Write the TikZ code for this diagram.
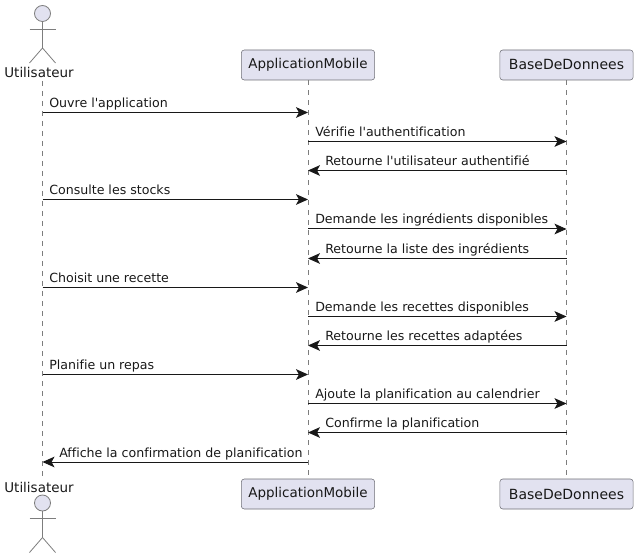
\documentclass[tikz,border=0pt]{standalone}
\usepackage{fontspec}
\newfontfamily\umlfont[Ligatures=NoCommon]{DejaVu Sans}
\usepackage{xcolor}
\definecolor{partfill}{RGB}{226,226,240}
\definecolor{partdraw}{RGB}{110,110,118}
\definecolor{linecol}{RGB}{125,125,125}
\definecolor{msgcol}{RGB}{24,24,24}
\usetikzlibrary{arrows.meta}
\tikzstyle{participant} = [
    rectangle, rounded corners=2.2pt, text centered,
    minimum width=100pt,
    minimum height=22.5pt,
    inner sep=0pt,
    fill=partfill,
    draw=partdraw,
    font=\umlfont\fontsize{10.1}{12}\selectfont,
    text=msgcol,
]
\tikzstyle{database} = [
    participant,
    font=\umlfont\fontsize{10.5}{12}\selectfont,
]
\tikzstyle{actorname} = [inner sep=0pt, text=msgcol, font=\umlfont\fontsize{10.1}{12}\selectfont]
\tikzstyle{msg} = [inner sep=0pt, anchor=base west, text=msgcol, font=\umlfont\fontsize{9.45}{12}\selectfont]
\tikzstyle{lifeline} = [linecol, dash pattern=on 3.75pt off 3.75pt, line width=0.6pt]
\tikzstyle{actorline} = [linecol, line width=0.6pt]
\tikzstyle{arrow} = [-{Stealth[length=9pt,width=8pt,inset=2.2pt]}, msgcol, line width=0.75pt]
\begin{document}
\begin{tikzpicture}[x=0.75pt,y=-0.75pt]
    \useasboundingbox (0,0) rectangle (638,559);

    % participants
    \node (apptop) at (308,65) [participant] {ApplicationMobile};
    \node (basetop) at (566.5,65) [database] {BaseDeDonnees};
    \node (appbot) at (308,494) [participant] {ApplicationMobile};
    \node (basebot) at (566.5,494) [database] {BaseDeDonnees};
    \node (usertop) at (39,72.5) [actorname] {Utilisateur};
    \node (userbot) at (39,487) [actorname] {Utilisateur};

    % lifelines
    \coordinate (linetop) at (42.5,81);
    \coordinate (linebot) at (42.5,476);
    \draw [lifeline] (linetop) -- (linebot);
    \draw [lifeline] (apptop.south) -- (appbot.north);
    \draw [lifeline] (basetop.south) -- (basebot.north);

    % actors
    \foreach \who/\y in {a/13.5,b/503} {
        \node (head\who) at (42.5,\y) [circle, minimum size=12pt, inner sep=0pt, fill=partfill, draw=linecol, line width=0.6pt] {};
        \coordinate (hip\who) at (42.5,\y+34.5);
        \coordinate (armL\who) at (29.5,\y+15.5);
        \coordinate (armR\who) at (55.5,\y+15.5);
        \coordinate (footL\who) at (29.5,\y+49.5);
        \coordinate (footR\who) at (55.5,\y+49.5);
        \draw [actorline] (head\who.south) -- (hip\who);
        \draw [actorline] (armL\who) -- (armR\who);
        \draw [actorline] (footL\who) -- (hip\who) -- (footR\who);
    }

    % messages
    \foreach \n/\y/\from/\to/\tx/\txt in {
        1/112.5/u/a/49/Ouvre l'application,
        2/141.5/a/b/315/Vérifie l'authentification,
        3/170.5/b/a/325/Retourne l'utilisateur authentifié,
        4/199.5/u/a/49/Consulte les stocks,
        5/229/a/b/315/Demande les ingrédients disponibles,
        6/258.5/b/a/325/Retourne la liste des ingrédients,
        7/287.5/u/a/49/Choisit une recette,
        8/316.5/a/b/315/Demande les recettes disponibles,
        9/345.5/b/a/325/Retourne les recettes adaptées,
        10/374.5/u/a/49/Planifie un repas,
        11/403.5/a/b/315/Ajoute la planification au calendrier,
        12/432.5/b/a/325/Confirme la planification,
        13/462/a/u/59/Affiche la confirmation de planification
    } {
        \coordinate (u\n) at (42.5,\y);
        \coordinate (a\n) at (308,\y);
        \coordinate (b\n) at (566.5,\y);
        \draw [arrow] (\from\n) -- (\to\n);
        \node (label\n) at (\tx,\y-5) [msg] {\txt};
    }
\end{tikzpicture}
\end{document}
